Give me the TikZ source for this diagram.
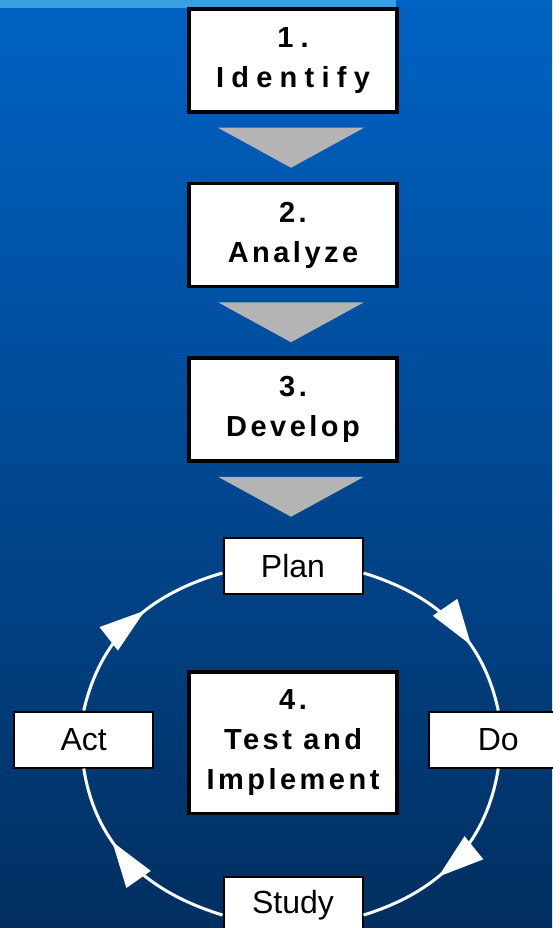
\documentclass[tikz,border=0pt]{standalone}
\usepackage{fontspec}
\setmainfont{Liberation Sans}
\newfontfamily\stepfont[LetterSpace=12]{Liberation Sans}
\newfontfamily\widefont[LetterSpace=25]{Liberation Sans}
\usetikzlibrary{arrows.meta,decorations.markings,positioning}
\definecolor{bgtop}{HTML}{0062C4}
\definecolor{bgbottom}{HTML}{012F60}
\definecolor{strip}{HTML}{3A9FE2}
\definecolor{wedgegray}{HTML}{B4B4B4}

\begin{document}
\begin{tikzpicture}[x=1pt,y=-1pt,
  stepbox/.style={rectangle,draw,line width=3.5pt,fill=white,align=center,minimum width=208pt,minimum height=103pt,font=\stepfont\bfseries\fontsize{29}{40}\selectfont},
  phasebox/.style={rectangle,draw,line width=2pt,fill=white,minimum width=139pt,minimum height=56pt,font=\fontsize{32}{38}\selectfont},
  wedge/.style={fill=wedgegray},
  loopline/.style={draw=white,line width=3pt,decoration={markings,mark=at position #1 with {\arrow{Triangle[length=46pt,width=29pt]}}},postaction={decorate}}]
\useasboundingbox (0,0) rectangle (552,928);
\fill[top color=bgtop,bottom color=bgbottom] (0,0) rectangle (552,928);
\fill[strip] (0,0) rectangle (396,8);

% the four steps
\node (s1) [stepbox] at (293,60.5) {{\widefont 1.}\\{\widefont Identify}};
\node (s2) [stepbox,below=68pt of s1] {2.\\Analyze};
\node (s3) [stepbox,below=68pt of s2] {3.\\Develop};
\node (s4) [stepbox,minimum height=141.5pt] at (293,742.5) {4.\\Test and\\Implement};

\fill[wedge] ([shift={(-75,14)}]s1.south) -- ([shift={(71,14)}]s1.south) -- ([shift={(-2,54)}]s1.south) -- cycle;
\fill[wedge] ([shift={(-75,14)}]s2.south) -- ([shift={(71,14)}]s2.south) -- ([shift={(-2,54)}]s2.south) -- cycle;
\fill[wedge] ([shift={(-75,14)}]s3.south) -- ([shift={(71,14)}]s3.south) -- ([shift={(-2,54)}]s3.south) -- cycle;

% PDSA cycle
\node (plan) [phasebox,above=75pt of s4] {Plan};
\node (act) [phasebox,left=33pt of s4,yshift=3pt] {Act};
\node (do) [phasebox,right=29pt of s4,yshift=3pt] {Do};
\node (study) [phasebox,below=61pt of s4] {Study};

\draw[loopline=0.58] (act.north) to[out=77,in=196] ([yshift=-7pt]plan.west);
\draw[loopline=0.65] ([yshift=-7pt]plan.east) to[out=-17,in=102] (do.north);
\draw[loopline=0.6] (do.south) to[out=-99,in=17] ([yshift=-10pt]study.east);
\draw[loopline=0.63] ([yshift=-10pt]study.west) to[out=163,in=-81] (act.south);
\end{tikzpicture}
\end{document}
